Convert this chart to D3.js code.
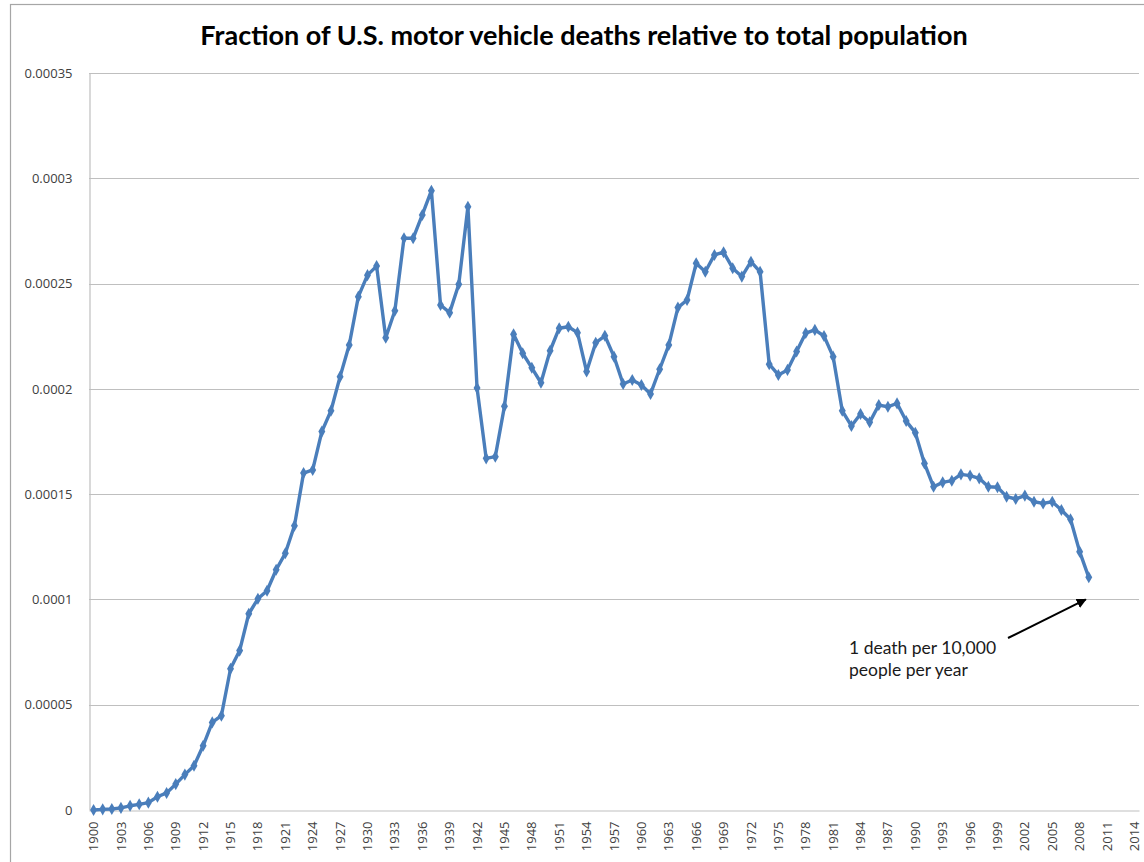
<!DOCTYPE html>
<html>
<head>
<meta charset="utf-8">
<script src="https://cdn.jsdelivr.net/npm/d3@7"></script>
<style>
  body { margin: 0; background: #fff; }
  svg { display: block; }
</style>
</head>
<body>
<script>
// years 1900..2014 on a category axis, data only through 2009
var years = d3.range(1900, 2015);
var dataYears = d3.range(1900, 2010);
var fraction = [
  0.0000000, 0.0000003, 0.0000005, 0.0000010, 0.0000020, 0.0000027, 0.0000035, 0.0000063, 0.0000081, 0.0000123,
  0.0000168, 0.0000210, 0.0000305, 0.0000416, 0.0000448, 0.0000671, 0.0000757, 0.0000932, 0.0001003, 0.0001041,
  0.0001141, 0.0001219, 0.0001350, 0.0001600, 0.0001615, 0.0001797, 0.0001896, 0.0002058, 0.0002208, 0.0002438,
  0.0002540, 0.0002583, 0.0002243, 0.0002371, 0.0002715, 0.0002715, 0.0002826, 0.0002941, 0.0002398, 0.0002362,
  0.0002497, 0.0002865, 0.0002004, 0.0001670, 0.0001678, 0.0001917, 0.0002259, 0.0002169, 0.0002100, 0.0002029,
  0.0002181, 0.0002288, 0.0002295, 0.0002267, 0.0002082, 0.0002219, 0.0002252, 0.0002153, 0.0002023, 0.0002042,
  0.0002018, 0.0001976, 0.0002093, 0.0002208, 0.0002386, 0.0002422, 0.0002596, 0.0002556, 0.0002636, 0.0002649,
  0.0002573, 0.0002533, 0.0002604, 0.0002556, 0.0002117, 0.0002066, 0.0002090, 0.0002177, 0.0002265, 0.0002280,
  0.0002251, 0.0002153, 0.0001896, 0.0001824, 0.0001881, 0.0001841, 0.0001923, 0.0001915, 0.0001931, 0.0001847,
  0.0001792, 0.0001646, 0.0001535, 0.0001556, 0.0001564, 0.0001594, 0.0001588, 0.0001575, 0.0001535, 0.0001533,
  0.0001488, 0.0001477, 0.0001493, 0.0001464, 0.0001456, 0.0001464, 0.0001425, 0.0001381, 0.0001227, 0.0001105
];
var yTicks = [0, 0.00005, 0.0001, 0.00015, 0.0002, 0.00025, 0.0003, 0.00035];
var tickLabels = ["0", "0.00005", "0.0001", "0.00015", "0.0002", "0.00025", "0.0003", "0.00035"];
var titleText = "Fraction of U.S. motor vehicle deaths relative to total population";
var noteLines = ["1 death per 10,000", "people per year"];
var noteYear = 2009, noteValue = 0.0001;

var W = 1144, H = 862;
var plot = {left: 89, right: 1139, top: 73, bottom: 810};
var blue = "#4a7ebb", grid = "#bfbfbf", txt = "#404040";

var svg = d3.select("body").append("svg")
  .attr("width", W).attr("height", H);

// outer chart frame
svg.append("rect")
  .attr("x", 10.5).attr("y", 4.5)
  .attr("width", W + 20).attr("height", H + 20)
  .attr("fill", "none").attr("stroke", "#a6a6a6").attr("stroke-width", 1.2);

var x = d3.scaleBand().domain(years).range([plot.left, plot.right]);
var y = d3.scaleLinear().domain([0, 0.00035]).range([plot.bottom, plot.top]);

// gridlines
svg.append("g").selectAll("line").data(yTicks.slice(1)).enter().append("line")
  .attr("x1", plot.left).attr("x2", plot.right)
  .attr("y1", d => Math.round(y(d)) + 0.5).attr("y2", d => Math.round(y(d)) + 0.5)
  .attr("stroke", grid).attr("stroke-width", 1.2);

// y axis
var yAxis = d3.axisLeft(y).tickValues(yTicks)
  .tickFormat((d, i) => tickLabels[i]).tickSize(0).tickPadding(17);
var gy = svg.append("g").attr("transform", "translate(" + (plot.left + 0.5) + ",0)").call(yAxis);
gy.select(".domain").attr("stroke", grid).attr("stroke-width", 1.2);
gy.selectAll("text").attr("fill", txt).style("font-family", "'Open Sans', sans-serif").style("font-size", "13px");

// x axis, every 3rd year
var xAxis = d3.axisBottom(x).tickValues(years.filter(d => (d - 1900) % 3 === 0)).tickSize(0).tickPadding(0);
var gx = svg.append("g").attr("transform", "translate(0," + (plot.bottom + 0.5) + ")").call(xAxis);
gx.select(".domain").attr("stroke", grid).attr("stroke-width", 1.2);
gx.selectAll("text")
  .attr("fill", txt).style("font-family", "'Open Sans', sans-serif").style("font-size", "13px")
  .attr("transform", "rotate(-90)")
  .attr("text-anchor", "end").attr("dy", "0.35em")
  .attr("x", -11).attr("y", 0);

// series
var pts = dataYears.map((yr, i) => [x(yr) + x.bandwidth() / 2, y(fraction[i])]);
svg.append("path")
  .attr("d", d3.line()(pts))
  .attr("fill", "none").attr("stroke", blue).attr("stroke-width", 3.4)
  .attr("stroke-linejoin", "round");

svg.append("g").selectAll("path").data(pts).enter().append("path")
  .attr("d", d3.symbol().type(d3.symbolDiamond).size(42))
  .attr("transform", d => "translate(" + d[0] + "," + d[1] + ")")
  .attr("fill", blue);

// title
svg.append("text")
  .attr("x", 584).attr("y", 45)
  .attr("text-anchor", "middle")
  .style("font-family", "Lato, sans-serif").style("font-weight", "bold").style("font-size", "27px")
  .attr("fill", "#000")
  .text(titleText);

// annotation
svg.append("defs").append("marker")
  .attr("id", "arr").attr("viewBox", "0 0 10 10").attr("refX", 9).attr("refY", 5)
  .attr("markerWidth", 5).attr("markerHeight", 5).attr("orient", "auto")
  .append("path").attr("d", "M0,0L10,5L0,10z").attr("fill", "#000");

var ax = x(noteYear) + x.bandwidth() / 2 - 3, ay = y(noteValue);
svg.append("line")
  .attr("x1", 1008).attr("y1", 638).attr("x2", ax).attr("y2", ay)
  .attr("stroke", "#000").attr("stroke-width", 2).attr("marker-end", "url(#arr)");

svg.append("g").selectAll("text").data(noteLines).enter().append("text")
  .attr("x", 849).attr("y", (d, i) => 654 + i * 22)
  .style("font-family", "Lato, sans-serif").style("font-size", "17.5px")
  .attr("fill", "#1a1a1a")
  .text(d => d);
</script>
</body>
</html>
